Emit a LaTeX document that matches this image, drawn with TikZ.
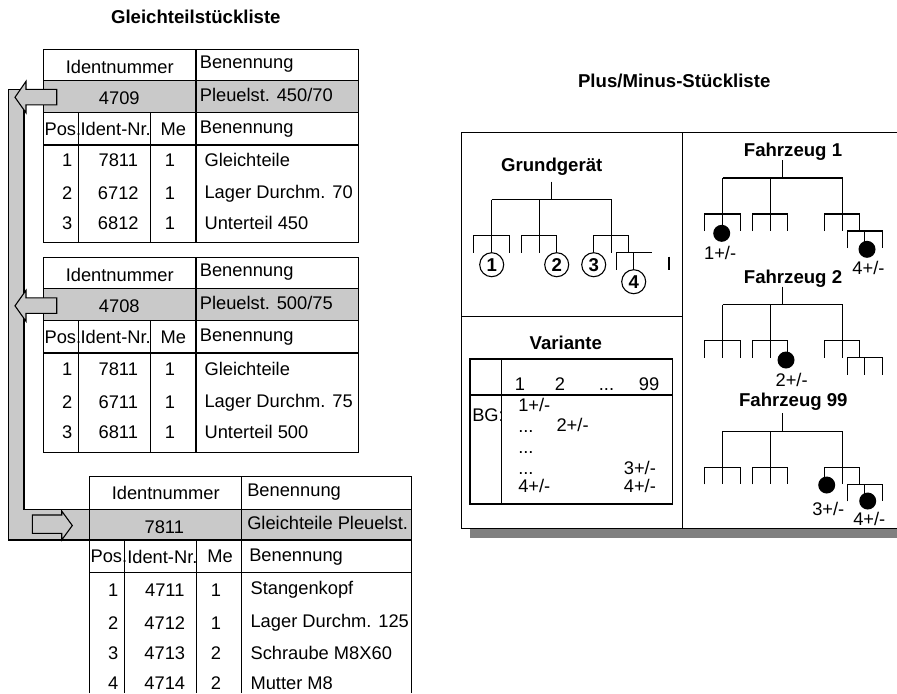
\documentclass[tikz,border=0pt]{standalone}
\usepackage{fontspec}
\setmainfont{Liberation Sans}
\usetikzlibrary{positioning}
\definecolor{zeile}{gray}{0.79}
\definecolor{schatten}{gray}{0.5}

\begin{document}
\begin{tikzpicture}[x=0.5pt, y=-0.5pt, line width=0.55pt,
  every node/.style={inner sep=0pt, font=\fontsize{9.15}{11}\selectfont},
  titel/.style={font=\fontsize{9.3}{11}\selectfont\bfseries},
  kreis/.style={draw, circle, minimum size=12pt, font=\fontsize{9.3}{11}\selectfont\bfseries},
  punkt/.style={fill, circle, minimum size=8.5pt},
  pfeil/.style={draw, fill=zeile},
  baum/.pic={
    \draw (0,0) -- (0,18) (-60,18) -- (60,18);
    \draw (-60,18) -- (-60,71) (-12,18) -- (-12,71) (60,18) -- (60,71);
    \draw (-78,71) -- (-78,54) -- (-42,54) -- (-42,71);
    \draw (-30,71) -- (-30,54) -- (5,54) -- (5,71);
    \draw (42,71) -- (42,54) -- (77,54) -- (77,71);
    \draw (65,88) -- (65,71) -- (100,71) (82,71) -- (82,88);
  }]
\useasboundingbox (0,0) rectangle (897,693);

\node (gtl) [titel] at (195.8,16.7) {Gleichteilstückliste};
\node (pml) [titel] at (674.2,81) {Plus/Minus-Stückliste};

\draw[pfeil] (8.3,89.5) -- (24,89.5) -- (24,509.3) -- (89.3,509.3) -- (89.3,540) -- (8.3,540) -- cycle;

\begin{scope}[shift={(43.3,49.3)}]
  \fill[zeile] (0,31.4) rectangle (315,63.4);
  \draw (0,0) rectangle (315,193.4);
  \draw (0,31.4) -- (315,31.4) (0,63.4) -- (315,63.4) (0,95.7) -- (315,95.7);
  \draw (152.7,0) -- (152.7,193.4) (35,63.4) -- (35,193.4) (107.4,63.4) -- (107.4,193.4);
  \draw[pfeil] (13.4,40) -- (-17.3,40) -- (-17.3,32) -- (-28.3,48) -- (-17.3,63.5) -- (-17.3,55.5) -- (13.4,55.5) -- cycle;
  \node (kopf1) at (76.4,17.5) {Identnummer};
  \node (name1) [anchor=west] at (156,14.5) {Benennung};
  \node (nr1) at (76,49) {4709};
  \node (bez1) [anchor=west] at (156,46) {Pleuelst. 450/70};
  \node (pos1) [anchor=west] at (0.7,79.5) {Pos.};
  \node (ident1) [anchor=west] at (36.7,79.5) {Ident-Nr.};
  \node (me1) at (130,79.5) {Me};
  \node (ben1) [anchor=west] at (156,79.5) {Benennung};
  \node (a1) at (24,110.7) {1};
  \node (b1) at (75,110.7) {7811};
  \node (c1) at (126.7,110.7) {1};
  \node (d1) [anchor=west] at (160.7,110.7) {Gleichteile};
  \node (a2) at (24,144) {2};
  \node (b2) at (75,144) {6712};
  \node (c2) at (126.7,144) {1};
  \node (d2) [anchor=west] at (160.7,144) {Lager Durchm. 70};
  \node (a3) at (24,174) {3};
  \node (b3) at (75,174) {6812};
  \node (c3) at (126.7,174) {1};
  \node (d3) [anchor=west] at (160.7,174) {Unterteil 450};
\end{scope}

\begin{scope}[shift={(43.3,257.3)}]
  \fill[zeile] (0,31.4) rectangle (315,63.4);
  \draw (0,0) rectangle (315,195);
  \draw (0,31.4) -- (315,31.4) (0,63.4) -- (315,63.4) (0,95.7) -- (315,95.7);
  \draw (152.7,0) -- (152.7,195) (35,63.4) -- (35,195) (107.4,63.4) -- (107.4,195);
  \draw[pfeil] (13.4,40.5) -- (-17.3,40.5) -- (-17.3,33) -- (-28.3,48.5) -- (-17.3,64) -- (-17.3,56) -- (13.4,56) -- cycle;
  \node (kopf2) at (76.4,17.5) {Identnummer};
  \node (name2) [anchor=west] at (156,14.5) {Benennung};
  \node (nr2) at (76,49) {4708};
  \node (bez2) [anchor=west] at (156,46) {Pleuelst. 500/75};
  \node (pos2) [anchor=west] at (0.7,79.5) {Pos.};
  \node (ident2) [anchor=west] at (36.7,79.5) {Ident-Nr.};
  \node (me2) at (130,79.5) {Me};
  \node (ben2) [anchor=west] at (156,79.5) {Benennung};
  \node (a12) at (24,112) {1};
  \node (b12) at (75,112) {7811};
  \node (c12) at (126.7,112) {1};
  \node (d12) [anchor=west] at (160.7,112) {Gleichteile};
  \node (a22) at (24,145) {2};
  \node (b22) at (75,145) {6711};
  \node (c22) at (126.7,145) {1};
  \node (d22) [anchor=west] at (160.7,145) {Lager Durchm. 75};
  \node (a32) at (24,175) {3};
  \node (b32) at (75,175) {6811};
  \node (c32) at (126.7,175) {1};
  \node (d32) [anchor=west] at (160.7,175) {Unterteil 500};
\end{scope}

\begin{scope}[shift={(89.3,476.7)}]
  \fill[zeile] (0,32.6) rectangle (322.4,63.3);
  \draw (0,216.3) -- (0,0) -- (322.4,0) -- (322.4,216.3);
  \draw (0,32.6) -- (322.4,32.6) (0,63.3) -- (322.4,63.3) (0,96) -- (322.4,96);
  \draw (152.4,0) -- (152.4,216.3) (35,63.3) -- (35,216.3) (107.4,63.3) -- (107.4,216.3);
  \draw[pfeil] (-57,38.3) -- (-27.6,38.3) -- (-27.6,34.3) -- (-17,48.8) -- (-27.6,63.3) -- (-27.6,56.6) -- (-57,56.6) -- cycle;
  \node (kopf3) at (76.4,16.6) {Identnummer};
  \node (name3) [anchor=west] at (157.4,15) {Benennung};
  \node (nr3) at (75,50) {7811};
  \node (bez3) [anchor=west] at (157.4,46.6) {Gleichteile Pleuelst.};
  \node (pos3) [anchor=west] at (0.7,80) {Pos.};
  \node (ident3) [anchor=west] at (37.4,80) {Ident-Nr.};
  \node (me3) at (130.7,80) {Me};
  \node (ben3) [anchor=west] at (159.4,80) {Benennung};
  \node (a13) at (24,113.3) {1};
  \node (b13) at (75.5,113.3) {4711};
  \node (c13) at (126.7,113.3) {1};
  \node (d13) [anchor=west] at (160.7,113.3) {Stangenkopf};
  \node (a23) at (24,146) {2};
  \node (b23) at (75.5,146) {4712};
  \node (c23) at (126.7,146) {1};
  \node (d23) [anchor=west] at (160.7,146) {Lager Durchm. 125};
  \node (a33) at (24,176.6) {3};
  \node (b33) at (75.5,176.6) {4713};
  \node (c33) at (126.7,176.6) {2};
  \node (d33) [anchor=west] at (160.7,176.6) {Schraube M8X60};
  \node (a43) at (24,206) {4};
  \node (b43) at (75.5,206) {4714};
  \node (c43) at (126.7,206) {2};
  \node (d43) [anchor=west] at (160.7,206) {Mutter M8};
\end{scope}

\fill[schatten] (470,528.3) rectangle (897,537.5);
\draw (897,132.7) -- (461.7,132.7) -- (461.7,528.3) -- (897,528.3);
\draw (682.7,132.7) -- (682.7,528.3) (461.7,316.7) -- (682.7,316.7);

\node (gg) [titel] at (551.7,166.7) {Grundgerät};
\pic at (551.7,181.7) {baum};
\draw (669,256.7) -- (669,270);
\node (k1) [kreis] at (491.7,264.7) {1};
\node (k2) [kreis] at (556.7,264.7) {2};
\node (k3) [kreis] at (593.7,264.7) {3};
\node (k4) [kreis] at (633.7,281.7) {4};

\begin{scope}[shift={(782.7,160)}]
  \pic {baum};
  \draw (100,71) -- (100,88);
  \node (fz1) [titel] at (10.3,-8.3) {Fahrzeug 1};
  \node (p11) [punkt] at (-61,73.3) {};
  \node (m11) [below=1.5pt of p11, xshift=-0.8pt] {1+/-};
  \node (p14) [punkt] at (84.3,89.3) {};
  \node (m14) [below=1pt of p14, xshift=0.7pt] {4+/-};
\end{scope}

\begin{scope}[shift={(782.7,286.7)}]
  \pic {baum};
  \draw (100,71) -- (100,88);
  \node (fz2) [titel] at (10.3,-8.4) {Fahrzeug 2};
  \node (p22) [punkt] at (3.3,73.3) {};
  \node (m22) [below=2pt of p22, xshift=2.8pt] {2+/-};
\end{scope}

\begin{scope}[shift={(782.7,413.3)}]
  \pic {baum};
  \draw (100,71) -- (100,88);
  \node (fz99) [titel] at (10.6,-11.6) {Fahrzeug 99};
  \node (p93) [punkt] at (44,71.7) {};
  \node (m93) [below=4pt of p93, xshift=0.8pt] {3+/-};
  \node (p94) [punkt] at (85,87.7) {};
  \node (m94) [below=1pt of p94, xshift=0.8pt] {4+/-};
\end{scope}

\node (var) [titel] at (565.8,343.3) {Variante};
\draw (470,359) rectangle (672.7,504);
\draw (501.7,359) -- (501.7,504) (470,395) -- (672.7,395);
\node (v1) [anchor=base west] at (514.3,390.5) {1};
\node (v2) [anchor=base west] at (554.3,390.5) {2};
\node (vp) [anchor=base west] at (598.3,390.5) {...};
\node (v99) [anchor=base west] at (638.3,390.5) {99};
\node (bg) [anchor=base west] at (471.7,421.7) {BG:};
\node (e1) [anchor=base west] at (517.7,411.7) {1+/-};
\node (f1) [anchor=base west] at (517.7,432.7) {...};
\node (e2) [anchor=base west] at (556,431.7) {2+/-};
\node (f2) [anchor=base west] at (517.7,453.3) {...};
\node (f3) [anchor=base west] at (517.7,474) {...};
\node (e3) [anchor=base west] at (623.3,474) {3+/-};
\node (e4) [anchor=base west] at (517.7,492.3) {4+/-};
\node (e5) [anchor=base west] at (623.3,492.3) {4+/-};
\end{tikzpicture}
\end{document}
